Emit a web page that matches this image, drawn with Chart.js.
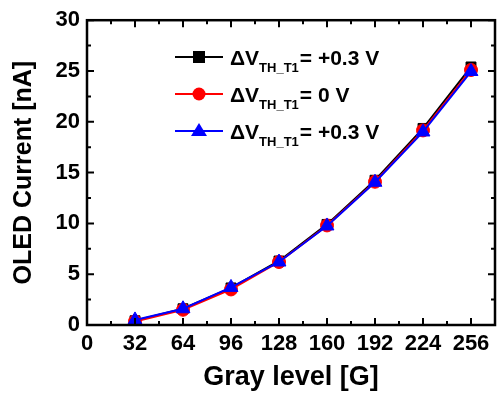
<!DOCTYPE html>
<html>
<head>
<meta charset="utf-8">
<script src="https://cdn.jsdelivr.net/npm/chart.js@4/dist/chart.umd.min.js"></script>
<style>
  html, body { margin: 0; padding: 0; background: #fff; }
  #wrap { width: 504px; height: 395px; position: relative; }
</style>
</head>
<body>
<div id="wrap"><canvas id="grafik"></canvas></div>
<script>
var grayLevels = [32, 64, 96, 128, 160, 192, 224, 256];
var plusValues = [0.42, 1.6, 3.65, 6.3, 9.9, 14.25, 19.35, 25.4];
var zeroValues = [0.35, 1.5, 3.5, 6.2, 9.8, 14.1, 19.15, 25.1];
var thirdValues = [0.5, 1.6, 3.7, 6.2, 9.75, 14.05, 19.0, 24.95];
var xTicks = [0, 32, 64, 96, 128, 160, 192, 224, 256];

var legendNames = [
    { main: "\u0394V", sub: "TH_T1", rest: "= +0.3 V" },
    { main: "\u0394V", sub: "TH_T1", rest: "= 0 V" },
    { main: "\u0394V", sub: "TH_T1", rest: "= +0.3 V" }
];

var fontAile = "'Liberation Sans', Arial, sans-serif";

function noktalar(values) {
    return grayLevels.map(function (g, i) { return { x: g, y: values[i] }; });
}

// frame, inward ticks and legend with subscripts
var cerceve = {
    id: "cerceve",
    afterDraw: function (chart) {
        var ctx = chart.ctx;
        var a = chart.chartArea;
        var xs = chart.scales.x;
        var ys = chart.scales.y;
        ctx.save();
        ctx.strokeStyle = "#000";
        ctx.lineWidth = 2;
        for (var g = 0; g <= 272; g += 16) {
            var px = xs.getPixelForValue(g);
            var len = (g % 32 === 0) ? 7 : 4;
            ctx.beginPath();
            ctx.moveTo(px, a.bottom); ctx.lineTo(px, a.bottom - len);
            ctx.moveTo(px, a.top); ctx.lineTo(px, a.top + len);
            ctx.stroke();
        }
        for (var v = 0; v <= 30; v += 2.5) {
            var py = ys.getPixelForValue(v);
            var l2 = (v % 5 === 0) ? 7 : 4;
            ctx.beginPath();
            ctx.moveTo(a.left, py); ctx.lineTo(a.left + l2, py);
            ctx.moveTo(a.right, py); ctx.lineTo(a.right - l2, py);
            ctx.stroke();
        }
        ctx.lineWidth = 2.5;
        ctx.strokeRect(a.left, a.top, a.right - a.left, a.bottom - a.top);

        // legend
        var ds = chart.data.datasets;
        for (var i = 0; i < ds.length; i++) {
            var y = 57 + i * 37;
            ctx.strokeStyle = ds[i].borderColor;
            ctx.lineWidth = 2;
            ctx.beginPath();
            ctx.moveTo(175, y); ctx.lineTo(223, y);
            ctx.stroke();
            ctx.fillStyle = ds[i].backgroundColor;
            ctx.beginPath();
            if (ds[i].pointStyle === "rect") {
                ctx.rect(193, y - 6, 12, 12);
            } else if (ds[i].pointStyle === "circle") {
                ctx.arc(199, y, 6.5, 0, Math.PI * 2);
            } else {
                ctx.moveTo(199, y - 8); ctx.lineTo(207, y + 5); ctx.lineTo(191, y + 5); ctx.closePath();
            }
            ctx.fill();

            var n = legendNames[i];
            ctx.fillStyle = "#000";
            ctx.textBaseline = "alphabetic";
            ctx.textAlign = "left";
            var tx = 230;
            var base = y + 8;
            ctx.font = "bold 21px " + fontAile;
            ctx.fillText(n.main, tx, base);
            tx += ctx.measureText(n.main).width;
            ctx.font = "bold 13px " + fontAile;
            ctx.fillText(n.sub, tx, base + 7);
            tx += ctx.measureText(n.sub).width + 1;
            ctx.font = "bold 21px " + fontAile;
            ctx.fillText(n.rest, tx, base);
        }
        ctx.restore();
    }
};

var chart = new Chart("grafik", {
    type: "line",
    data: {
        datasets: [{
            data: noktalar(plusValues),
            order: 3,
            borderColor: "#000000",
            backgroundColor: "#000000",
            borderWidth: 2,
            pointStyle: "rect",
            pointRadius: 7,
            pointBorderWidth: 1
        }, {
            data: noktalar(zeroValues),
            order: 2,
            borderColor: "#ff0000",
            backgroundColor: "#ff0000",
            borderWidth: 2,
            pointStyle: "circle",
            pointRadius: 6.5,
            pointBorderWidth: 1
        }, {
            data: noktalar(thirdValues),
            order: 1,
            borderColor: "#0000ff",
            backgroundColor: "#0000ff",
            borderWidth: 2,
            pointStyle: "triangle",
            pointRadius: 8,
            pointBorderWidth: 1
        }]
    },
    options: {
        responsive: true,
        maintainAspectRatio: false,
        animation: false,
        layout: { padding: { top: 17, right: 2, left: 0, bottom: 0 } },
        plugins: {
            legend: { display: false },
            tooltip: { enabled: false }
        },
        scales: {
            x: {
                type: "linear",
                min: 0,
                max: 272,
                afterBuildTicks: function (scale) {
                    scale.ticks = xTicks.map(function (t) { return { value: t }; });
                },
                afterFit: function (scale) { scale.height = 70; },
                grid: { display: false, drawTicks: false },
                border: { display: false },
                ticks: {
                    padding: 6,
                    maxRotation: 0,
                    autoSkip: false,
                    color: "#000",
                    font: { family: fontAile, size: 22, weight: "bold" }
                },
                title: {
                    display: true,
                    text: "Gray level [G]",
                    color: "#000",
                    padding: { top: 0, bottom: 1 },
                    font: { family: fontAile, size: 27, weight: "bold" }
                }
            },
            y: {
                min: 0,
                max: 30,
                afterFit: function (scale) { scale.width = 87; },
                grid: { display: false, drawTicks: false },
                border: { display: false },
                ticks: {
                    stepSize: 5,
                    padding: 7,
                    color: "#000",
                    font: { family: fontAile, size: 22, weight: "bold" }
                },
                title: {
                    display: true,
                    text: "OLED Current [nA]",
                    color: "#000",
                    padding: { top: 9, bottom: 0 },
                    font: { family: fontAile, size: 25, weight: "bold" }
                }
            }
        }
    },
    plugins: [cerceve]
});
</script>
</body>
</html>
